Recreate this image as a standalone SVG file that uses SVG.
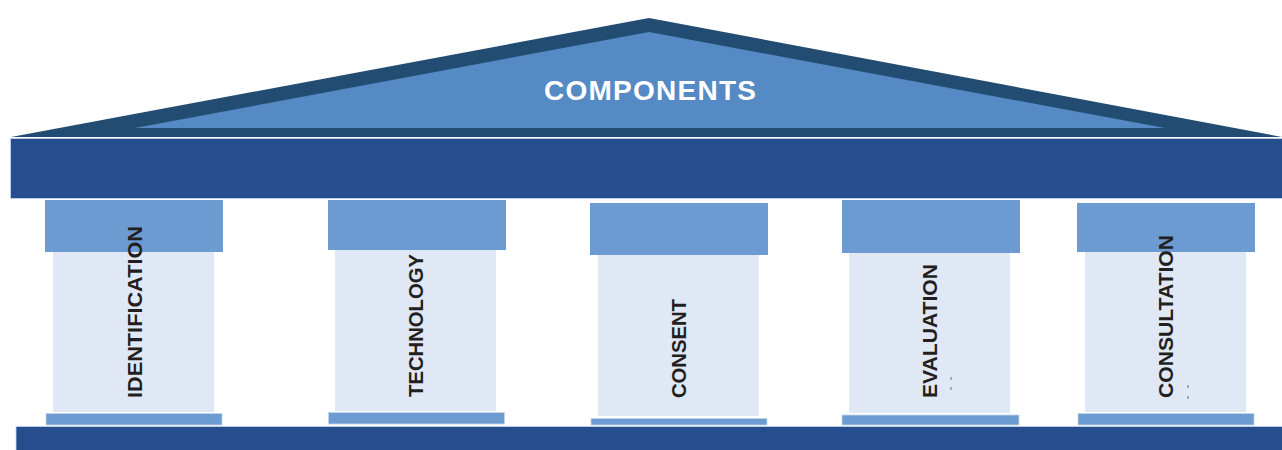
<svg xmlns="http://www.w3.org/2000/svg" width="1282" height="450" viewBox="0 0 1282 450">
  <style>
    .capital { fill: #6c9bd1; }
    .shaft { fill: #e0e8f5; }
    .plinth { fill: #6c9bd1; stroke: #c6d5ea; stroke-width: 0.8; }
    .beam { fill: #264e8f; stroke: #c6d5ea; stroke-width: 0.8; }
    .label { font-family: "Liberation Sans", Arial, sans-serif; font-weight: bold; font-size: 21px; fill: #231f20; }
    .tick { fill: #6b6b6b; }
    .title { font-family: "Liberation Sans", Arial, sans-serif; font-weight: bold; font-size: 28px; fill: #ffffff; }
  </style>

  <!-- pediment -->
  <g id="roof">
    <polygon points="11,137 649,18 1282,137" fill="#234c73"/>
    <polygon points="135,128 649,32 1165,128" fill="#558ac4"/>
    <text class="title" x="650" y="100" text-anchor="middle" textLength="212" lengthAdjust="spacing">COMPONENTS</text>
  </g>

  <!-- entablature -->
  <g id="entablature">
    <rect class="beam" x="10.5" y="138.5" width="1272" height="60"/>
  </g>

  <!-- stylobate -->
  <g id="foundation">
    <rect class="beam" x="16" y="426.5" width="1267" height="24"/>
  </g>

  <!-- pillars -->
  <g id="pillar-identification">
    <rect class="capital" x="45" y="200" width="178" height="52"/>
    <rect class="shaft" x="53" y="252" width="161" height="160"/>
    <rect class="plinth" x="46" y="413.5" width="176" height="11.5"/>
    <text class="label" transform="translate(142,398) rotate(-90)" textLength="172" lengthAdjust="spacingAndGlyphs">IDENTIFICATION</text>
  </g>

  <g id="pillar-technology">
    <rect class="capital" x="328" y="200" width="178" height="50"/>
    <rect class="shaft" x="335" y="250" width="161" height="161"/>
    <rect class="plinth" x="328.5" y="412.5" width="176" height="11.5"/>
    <text class="label" transform="translate(423,397) rotate(-90)" textLength="143" lengthAdjust="spacingAndGlyphs">TECHNOLOGY</text>
  </g>

  <g id="pillar-consent">
    <rect class="capital" x="590" y="203" width="178" height="52"/>
    <rect class="shaft" x="598" y="255" width="161" height="161"/>
    <rect class="plinth" x="591" y="418.5" width="176" height="6.5"/>
    <text class="label" transform="translate(686,398) rotate(-90)" textLength="99" lengthAdjust="spacingAndGlyphs">CONSENT</text>
  </g>

  <g id="pillar-evaluation">
    <rect class="capital" x="842" y="200" width="178" height="53"/>
    <rect class="shaft" x="849" y="253" width="161" height="160"/>
    <rect class="plinth" x="842" y="415" width="177" height="10"/>
    <text class="label" transform="translate(937,398) rotate(-90)" textLength="134" lengthAdjust="spacingAndGlyphs">EVALUATION</text>
    <rect class="tick" x="950.5" y="377" width="1" height="3"/>
    <rect class="tick" x="950.5" y="387" width="1" height="3"/>
  </g>

  <g id="pillar-consultation">
    <rect class="capital" x="1077" y="203" width="178" height="49"/>
    <rect class="shaft" x="1085" y="252" width="161" height="160"/>
    <rect class="plinth" x="1078" y="413.5" width="176" height="11.5"/>
    <text class="label" transform="translate(1172.5,398) rotate(-90)" textLength="163" lengthAdjust="spacingAndGlyphs">CONSULTATION</text>
    <rect class="tick" x="1187.5" y="385" width="1" height="3"/>
    <rect class="tick" x="1187.5" y="396" width="1" height="3"/>
  </g>

  <!-- no connectors in this figure -->
  <g id="connectors"/>
</svg>
